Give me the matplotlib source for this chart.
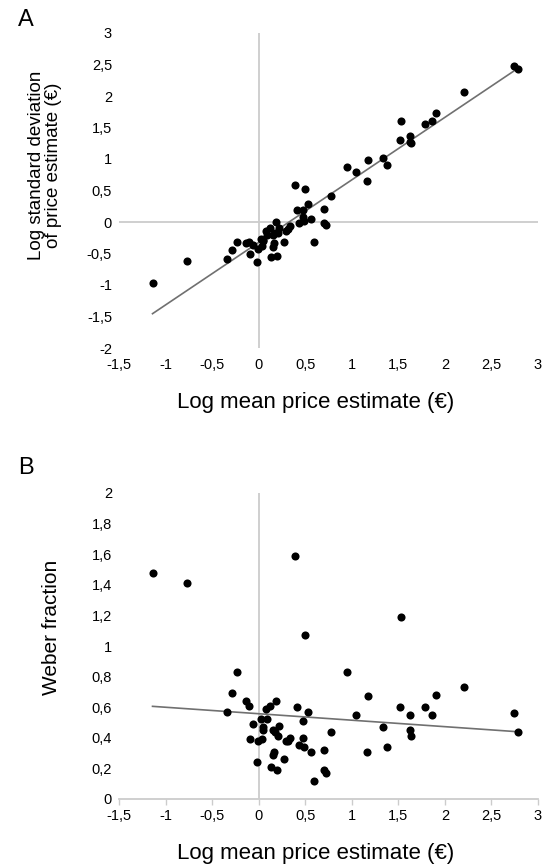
import numpy as np
import matplotlib as mpl
mpl.use("Agg")
import matplotlib.pyplot as plt
from matplotlib.ticker import FuncFormatter, MultipleLocator

plt.rcParams["font.family"] = ["Liberation Sans", "DejaVu Sans"]

# log10 mean price estimate (same items in both panels)
log_mean = [-1.14, -0.77, -0.23, -0.29, -0.14, -0.10, -0.34, 0.08, 0.12, 0.19,
            0.39, 0.50, 1.53, 0.95, 1.17, 1.90, 0.41, 0.53, 1.52, 1.79,
            1.05, 1.63, 1.86, 0.02, 0.09, -0.06, 0.05, 0.48, 0.22, 1.34,
            0.05, 0.15, 0.18, 0.21, 1.62, 1.64, 0.78, -0.09, -0.01, 0.04,
            0.34, 0.29, 0.32, 0.48, 0.43, 0.49, 0.56, 0.70, 1.16, 1.38,
            0.17, 0.15, 0.27, -0.02, 0.13, 0.20, 0.70, 0.72, 0.59, 2.20,
            2.74, 2.79]
# panel A: log10 standard deviation of the estimates
log_sd = [-0.97, -0.62, -0.31, -0.45, -0.34, -0.31, -0.58, -0.14, -0.09, 0.00,
          0.59, 0.53, 1.60, 0.87, 0.99, 1.73, 0.19, 0.29, 1.30, 1.56,
          0.79, 1.37, 1.60, -0.27, -0.20, -0.37, -0.28, 0.19, -0.10, 1.01,
          -0.30, -0.20, -0.18, -0.18, 1.27, 1.26, 0.42, -0.50, -0.43, -0.38,
          -0.06, -0.14, -0.11, 0.08, -0.02, 0.02, 0.05, 0.21, 0.65, 0.91,
          -0.34, -0.39, -0.31, -0.64, -0.56, -0.54, -0.02, -0.04, -0.32, 2.06,
          2.48, 2.43]
# panel B: Weber fraction (sd / mean)
weber = [1.48, 1.41, 0.83, 0.69, 0.64, 0.61, 0.57, 0.59, 0.61, 0.64,
         1.59, 1.07, 1.19, 0.83, 0.67, 0.68, 0.60, 0.57, 0.60, 0.60,
         0.55, 0.55, 0.55, 0.52, 0.52, 0.49, 0.47, 0.51, 0.48, 0.47,
         0.45, 0.45, 0.44, 0.41, 0.45, 0.41, 0.44, 0.39, 0.38, 0.39,
         0.40, 0.38, 0.38, 0.40, 0.35, 0.34, 0.31, 0.32, 0.31, 0.34,
         0.31, 0.29, 0.26, 0.24, 0.21, 0.19, 0.19, 0.17, 0.12, 0.73,
         0.56, 0.44]

AXCOL = "#cccccc"
LINECOL = "#707070"
fmt = FuncFormatter(lambda v, p: f"{v:g}".replace(".", ","))


def panel(ax, x, y, ylo, yhi, ystep):
    ax.scatter(x, y, s=34, color="black", zorder=3, linewidths=0)
    b, a = np.polyfit(x, y, 1)
    xs = np.array([min(x), max(x)])
    ax.plot(xs, a + b * xs, color=LINECOL, lw=1.2, zorder=2)
    ax.set_xlim(-1.5, 3)
    ax.set_ylim(ylo, yhi)
    ax.xaxis.set_major_locator(MultipleLocator(0.5))
    ax.yaxis.set_major_locator(MultipleLocator(ystep))
    ax.xaxis.set_major_formatter(fmt)
    ax.yaxis.set_major_formatter(fmt)
    ax.axvline(0, color=AXCOL, lw=1.3, zorder=1)
    for s in ax.spines.values():
        s.set_visible(False)
    ax.tick_params(labelsize=10.5, length=0, pad=5)
    ax.set_xlabel("Log mean price estimate (€)", fontsize=16)


fig = plt.figure(figsize=(5.47, 8.66), dpi=100)

axA = fig.add_axes([119 / 547, 1 - 348 / 866, 419 / 547, 315 / 866])
panel(axA, log_mean, log_sd, -2, 3, 0.5)
axA.axhline(0, color=AXCOL, lw=1.3, zorder=1)
axA.tick_params(axis="x", pad=7)
axA.set_ylabel("Log standard deviation\nof price estimate (€)", fontsize=13.5,
               linespacing=1.0)
axA.yaxis.set_label_coords(-0.135, 0.58)
axA.xaxis.set_label_coords(0.47, -0.14)

axB = fig.add_axes([119 / 547, 1 - 799 / 866, 419 / 547, 306 / 866])
panel(axB, log_mean, weber, 0, 2, 0.2)
axB.spines["bottom"].set_visible(True)
axB.spines["bottom"].set_color(AXCOL)
axB.spines["bottom"].set_linewidth(1.3)
axB.tick_params(axis="x", length=4, color=AXCOL, width=1.0, pad=3)
axB.set_ylabel("Weber fraction", fontsize=15)
axB.yaxis.set_label_coords(-0.138, 0.56)
axB.xaxis.set_label_coords(0.47, -0.145)

fig.text(18 / 547, 1 - 20 / 866, "A", fontsize=17, va="center", ha="left")
fig.text(18 / 547, 1 - 468 / 866, "B", fontsize=17, va="center", ha="left")

fig.savefig("out.png", dpi=100)
